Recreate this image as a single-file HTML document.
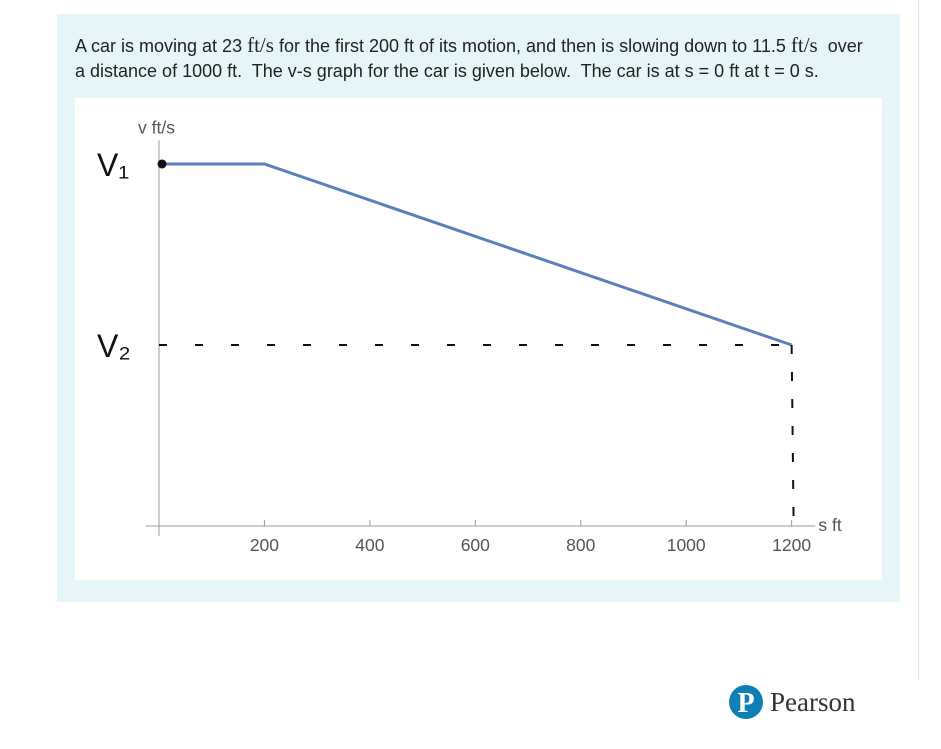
<!DOCTYPE html>
<html><head><meta charset="utf-8"><style>
body{margin:0;width:941px;height:749px;background:#fff;font-family:"Liberation Sans",sans-serif;position:relative;overflow:hidden}
#panel{position:absolute;left:57px;top:14px;width:843px;height:588px;background:#e6f5f7}
#txt{position:absolute;left:75px;top:33px;font-size:18px;color:#222;line-height:25px;width:830px;white-space:nowrap}
.m{font-family:"Liberation Serif",serif;font-size:21px}
#chart{position:absolute;left:75px;top:98px}
#rline{position:absolute;left:918px;top:0;width:1px;height:680px;background:#ddd}
#logo{position:absolute;left:728px;top:684px;display:flex;align-items:center}
</style></head><body>
<div id="rline"></div>
<div id="panel"></div>
<div id="txt">A car is moving at 23 <span class="m">ft/s</span> for the first 200 ft of its motion, and then is slowing down to 11.5 <span class="m">ft/s</span>&nbsp; over<br>a distance of 1000 ft.&nbsp; The v-s graph for the car is given below.&nbsp; The car is at s = 0 ft at t = 0 s.</div>
<svg id="chart" width="807" height="482"></svg>
<div id="logo">
<svg width="36" height="36"><circle cx="18" cy="18" r="17" fill="#0e7fb5"/><text x="18" y="28" text-anchor="middle" font-family="Liberation Serif" font-weight="bold" font-size="28" fill="#fff">P</text></svg>
<span style="font-family:'Liberation Serif',serif;font-size:27px;color:#333;margin-left:6px">Pearson</span></div>
<script>
const sVals=[0,200,1200];
const vVals=[23,23,11.5];
const xTicks=[200,400,600,800,1000,1200];
const NS="http://www.w3.org/2000/svg";
const svg=document.getElementById('chart');
const ox=75,oy=98;
function X(s){return 159+s*0.5272-ox}
function Y(v){return 526-v*15.74-oy}
function el(t,a,p){const e=document.createElementNS(NS,t);for(const k in a)e.setAttribute(k,a[k]);(p||svg).appendChild(e);return e}
const bg=el('rect',{x:0,y:0,width:807,height:482,fill:'#fff'});


const xa=el('line',{x1:X(-25),y1:Y(0),x2:X(1245),y2:Y(0),stroke:'#999','stroke-width':1});


const ya=el('line',{x1:X(0),y1:Y(0)+10,x2:X(0),y2:Y(24.5),stroke:'#999','stroke-width':1});


xTicks.forEach(t=>{
 const l=el('line',{x1:X(t),y1:Y(0),x2:X(t),y2:Y(0)-6,stroke:'#999'});
 
 
 const tx=el('text',{x:X(t),y:Y(0)+25,'text-anchor':'middle','font-size':17.5,fill:'#555','font-family':'Liberation Sans'});
 tx.textContent=t;
 
 
});
const xt=el('text',{x:X(1245)+3,y:Y(0)+5,'font-size':17.5,fill:'#555','font-family':'Liberation Sans'});xt.textContent='s ft';


const yt=el('text',{x:X(0)-21,y:Y(24.5)-7,'font-size':17.5,fill:'#555','font-family':'Liberation Sans'});yt.textContent='v ft/s';


const ln=el('polyline',{points:sVals.map((s,i)=>X(s)+','+Y(vVals[i])).join(' '),fill:'none',stroke:'#5b7fba','stroke-width':3});


const last=sVals.length-1;
const d1=el('line',{x1:X(0),y1:Y(vVals[last]),x2:X(sVals[last]),y2:Y(vVals[last]),stroke:'#111','stroke-width':2,'stroke-dasharray':'8 28'});


const d2=el('line',{x1:X(sVals[last]),y1:Y(vVals[last]),x2:X(sVals[last])+2,y2:Y(0),stroke:'#111','stroke-width':2,'stroke-dasharray':'9 18'});


const dot=el('circle',{cx:X(0)+3,cy:Y(vVals[0]),r:4.5,fill:'#111'});


const v1=el('text',{x:22,y:Y(vVals[0])+12,'font-size':32,fill:'#111','font-family':'Liberation Sans'});v1.textContent='V₁';


const v2=el('text',{x:22,y:Y(vVals[last])+12,'font-size':32,fill:'#111','font-family':'Liberation Sans'});v2.textContent='V₂';


</script>
</body></html>
